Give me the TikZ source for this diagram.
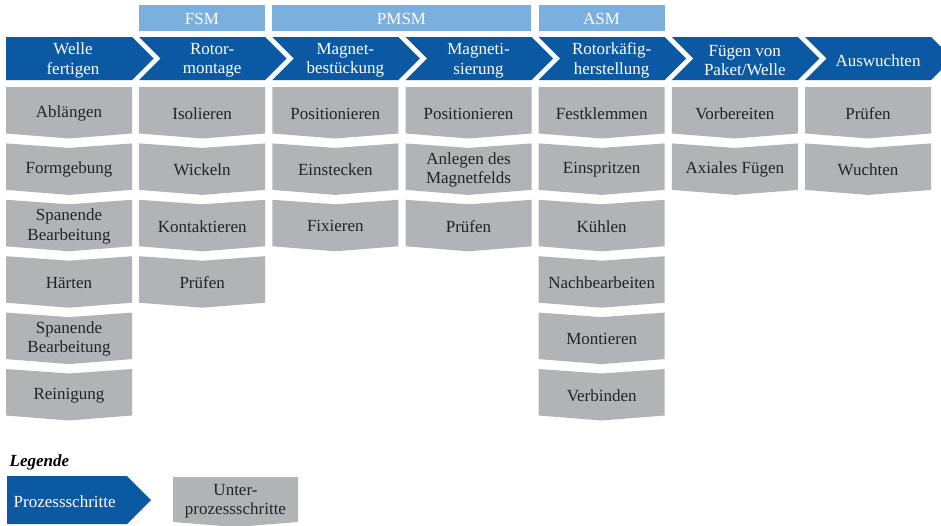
\documentclass[tikz,border=0pt]{standalone}
\usepackage{fontspec}
\setmainfont{Liberation Serif}
\definecolor{pblue}{HTML}{0B58A3}
\definecolor{lblue}{HTML}{7BAFDD}
\definecolor{sgray}{HTML}{B2B3B7}
\definecolor{tgray}{HTML}{232323}
\tikzset{
  txt/.style={font=\fontsize{17}{19.5}\selectfont, align=center, inner sep=0pt},
  wtxt/.style={txt, text=white},
  gtxt/.style={txt, text=tgray},
}
\newcommand\subbox[3]{%
  \pgfmathsetmacro\xo{6+133.17*#1}%
  \pgfmathsetmacro\yt{87+56.4*(#2-1)}%
  \pgfmathsetmacro\yb{\yt+46.5}%
  \ifnum#2=1
    \fill[sgray] (\xo,\yt) -- (\xo+126,\yt) -- (\xo+126,\yb) -- (\xo+63,\yb+5) -- (\xo,\yb) -- cycle;
  \else
    \fill[sgray] (\xo,\yt) -- (\xo+63,\yt+4.5) -- (\xo+126,\yt) -- (\xo+126,\yb) -- (\xo+63,\yb+5) -- (\xo,\yb) -- cycle;
  \fi
  \node[gtxt] (s#1-#2) at (\xo+63,\yt+26.5) {#3};
}
\newcommand\procstep[2]{%
  \pgfmathsetmacro\xo{6+133.17*#1}%
  \fill[pblue] (\xo,37) -- (\xo+126,37) -- (\xo+147.5,58.5) -- (\xo+126,80) -- (\xo,80) -- (\xo+21.5,58.5) -- cycle;
  \node[wtxt] (p#1) at (\xo+73,60.5) {#2};
}
\begin{document}
\begin{tikzpicture}[x=1pt,y=-1pt]
\useasboundingbox (0,0) rectangle (941,525);
\begin{scope}
\clip (0,0) rectangle (941,525);
% machine type headers
\fill[lblue] (139,5) rectangle (265,31);
\node[wtxt] (fsm) at (202,19) {FSM};
\fill[lblue] (272,5) rectangle (531,31);
\node[wtxt] (pmsm) at (401.5,19) {PMSM};
\fill[lblue] (538.5,5) rectangle (664.5,31);
\node[wtxt] (asm) at (601.5,19) {ASM};
% process steps
\fill[pblue] (6,37) -- (132,37) -- (153.5,58.5) -- (132,80) -- (6,80) -- cycle;
\node[wtxt] (p0) at (73,60.5) {Welle\\fertigen};
\procstep{1}{Rotor-\\montage}
\procstep{2}{Magnet-\\bestückung}
\procstep{3}{Magneti-\\sierung}
\procstep{4}{Rotorkäfig-\\herstellung}
\procstep{5}{Fügen von\\Paket/Welle}
\procstep{6}{Auswuchten}
% sub steps
\subbox{0}{1}{Ablängen}
\subbox{0}{2}{Formgebung}
\subbox{0}{3}{Spanende\\Bearbeitung}
\subbox{0}{4}{Härten}
\subbox{0}{5}{Spanende\\Bearbeitung}
\subbox{0}{6}{Reinigung}
\subbox{1}{1}{Isolieren}
\subbox{1}{2}{Wickeln}
\subbox{1}{3}{Kontaktieren}
\subbox{1}{4}{Prüfen}
\subbox{2}{1}{Positionieren}
\subbox{2}{2}{Einstecken}
\subbox{2}{3}{Fixieren}
\subbox{3}{1}{Positionieren}
\subbox{3}{2}{Anlegen des\\Magnetfelds}
\subbox{3}{3}{Prüfen}
\subbox{4}{1}{Festklemmen}
\subbox{4}{2}{Einspritzen}
\subbox{4}{3}{Kühlen}
\subbox{4}{4}{Nachbearbeiten}
\subbox{4}{5}{Montieren}
\subbox{4}{6}{Verbinden}
\subbox{5}{1}{Vorbereiten}
\subbox{5}{2}{Axiales Fügen}
\subbox{6}{1}{Prüfen}
\subbox{6}{2}{Wuchten}
% legend
\node[font=\fontsize{17}{20}\selectfont\bfseries\itshape, text=black, anchor=base west, inner sep=0pt] (leg) at (9.5,466) {Legende};
\fill[pblue] (7,476) -- (127,476) -- (151,500) -- (127,524) -- (7,524) -- cycle;
\node[wtxt, anchor=west] (legp) at (13.5,502) {Prozessschritte};
\fill[sgray] (173,477) -- (298,477) -- (298,522) -- (235.5,527) -- (173,522) -- cycle;
\node[gtxt] (legs) at (235.5,501) {Unter-\\prozessschritte};
\end{scope}
\end{tikzpicture}
\end{document}
